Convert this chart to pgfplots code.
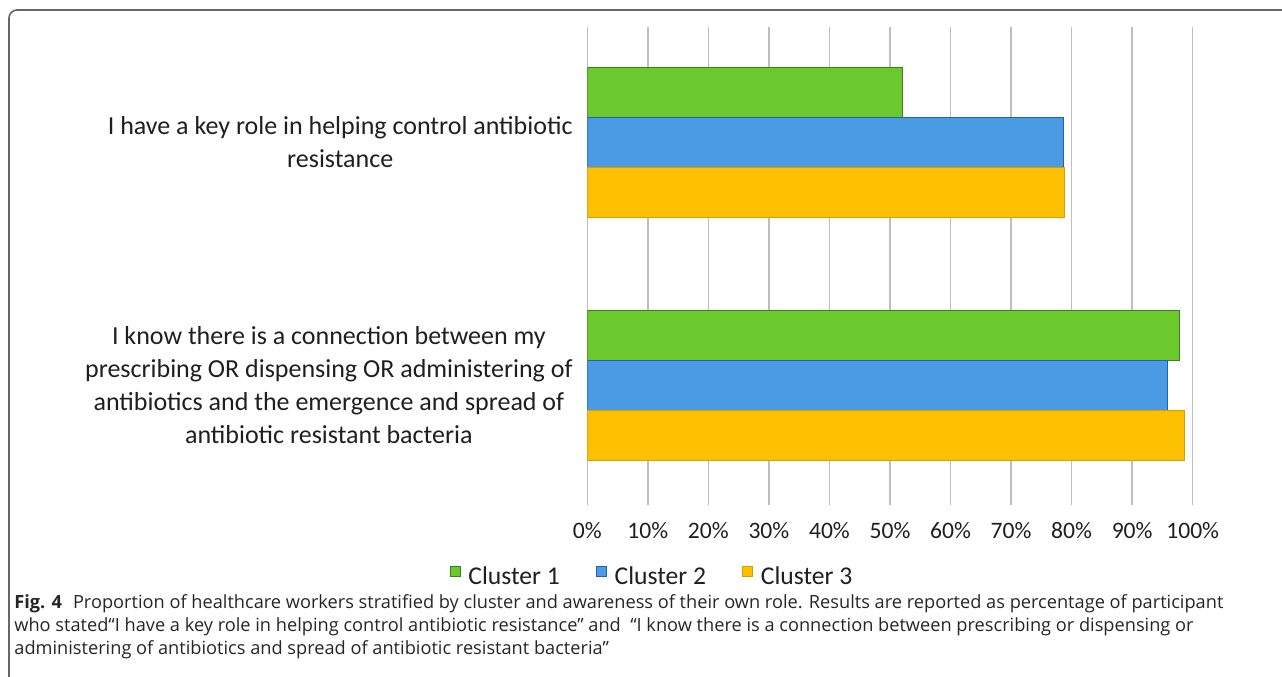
\documentclass[border=0pt]{standalone}
\usepackage{pgfplots}
\pgfplotsset{compat=1.18}
\usepackage{fontspec}
\setmainfont{Carlito}
\newfontfamily\capfont{Open Sans}

\definecolor{cone}{HTML}{6BC92E}
\definecolor{conedark}{HTML}{3F7F1A}
\definecolor{ctwo}{HTML}{4A9BE4}
\definecolor{ctwodark}{HTML}{1E64B4}
\definecolor{cthree}{HTML}{FDC000}
\definecolor{cthreedark}{HTML}{D89E00}
\definecolor{gridgray}{HTML}{BEBEBE}
\definecolor{framegray}{HTML}{666666}

\begin{document}
\begin{tikzpicture}
% page area
\path[use as bounding box] (0pt,0pt) rectangle (641pt,-338pt);
% figure frame
\draw[framegray, line width=0.8pt] (4.5pt,-340pt) -- (4.5pt,-9pt)
  arc[start angle=180, end angle=90, radius=4pt] -- (642pt,-5pt);

\begin{axis}[
  at={(293.65pt,-252.5pt)}, anchor=south west,
  scale only axis, width=302.7pt, height=239pt,
  xbar, bar width=25pt,
  xmin=0, xmax=100, ymin=-0.4938, ymax=1.4745,
  xtick={0,10,...,100},
  xticklabels={0\%,10\%,20\%,30\%,40\%,50\%,60\%,70\%,80\%,90\%,100\%},
  ytick={0,1},
  yticklabels={{I know there is a connection between my\\prescribing OR dispensing OR administering of\\antibiotics and the emergence and spread of\\antibiotic resistant bacteria},
               {I have a key role in helping control antibiotic\\resistance}},
  yticklabel style={align=center, font=\fontsize{13}{16.5}\selectfont,
    inner sep=0pt, anchor=east, xshift=-7.15pt, text=black!88},
  xticklabel style={font=\fontsize{11.8}{14}\selectfont, inner sep=0pt,
    anchor=base, yshift=-16.5pt, text=black!88},
  major tick length=0pt,
  axis line style={draw=none},
  xmajorgrids, ymajorgrids=false,
  grid style={gridgray, line width=0.75pt},
  legend columns=3,
  legend entries={Cluster 1, Cluster 2, Cluster 3},
  legend style={at={(0.1085,-0.1506)}, anchor=center, draw=none, fill=none,
    font=\fontsize{12.8}{15}\selectfont, text=black!88,
    /tikz/every odd column/.append style={column sep=2pt},
    /tikz/every even column/.append style={column sep=16pt}},
  legend image code/.code={\draw[#1, line width=0.4pt] (0pt,0.3pt) rectangle (5pt,5.3pt);},
]
\addplot[fill=cone, draw=conedark, line width=0.5pt, bar shift=25pt]
  coordinates {(52.0,1) (97.8,0)};
\addplot[fill=ctwo, draw=ctwodark, line width=0.5pt, bar shift=0pt]
  coordinates {(78.7,1) (95.9,0)};
\addplot[fill=cthree, draw=cthreedark, line width=0.5pt, bar shift=-25pt]
  coordinates {(78.9,1) (98.6,0)};
\end{axis}

% caption
\begin{scope}[every node/.style={anchor=base west, inner sep=0pt,
    font=\capfont\fontsize{9.1}{11}\selectfont, text=black!85}]
\node at (7pt,-304pt) {\textbf{Fig. 4}\hspace{0.6em}Proportion of healthcare workers stratified by cluster and awareness of their own role. Results are reported as percentage of participant};
\node at (7pt,-315.8pt) {who stated“I have a key role in helping control antibiotic resistance” and \ “I know there is a connection between prescribing or dispensing or};
\node at (7pt,-327.3pt) {administering of antibiotics and spread of antibiotic resistant bacteria”};
\end{scope}
\end{tikzpicture}
\end{document}
